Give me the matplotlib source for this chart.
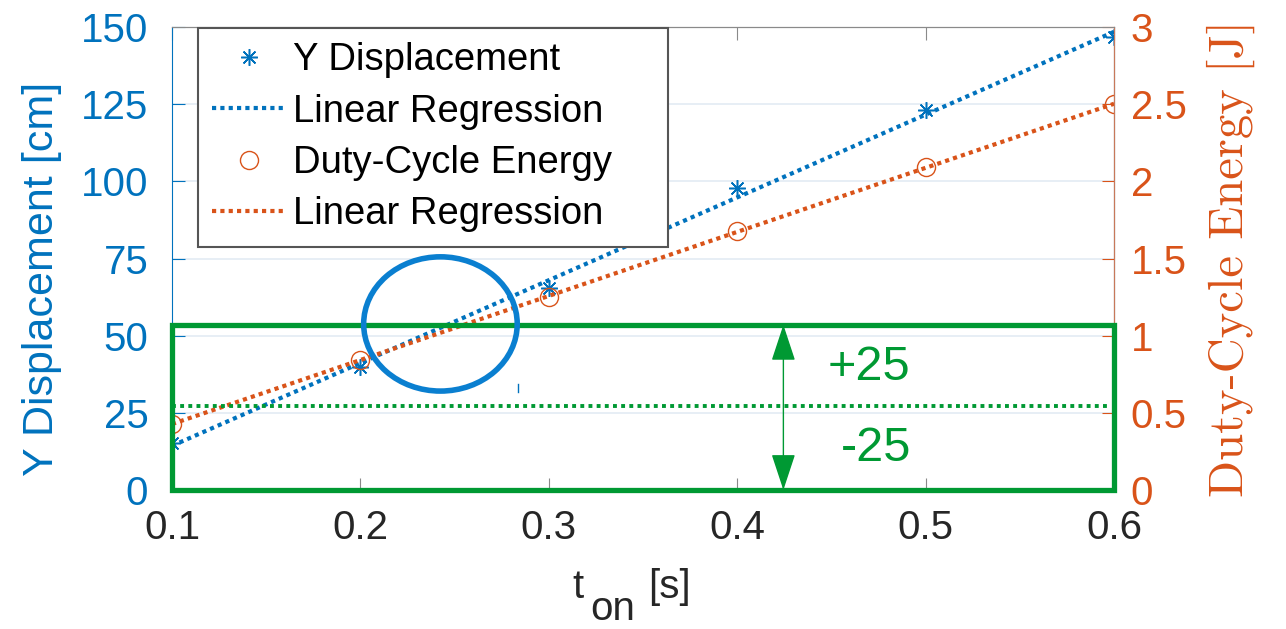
import numpy as np
import matplotlib.pyplot as plt
from matplotlib.patches import Rectangle, Ellipse

plt.rcParams['font.family'] = 'Liberation Sans'

# data
t_on = np.array([0.1, 0.2, 0.3, 0.4, 0.5, 0.6])
y_disp = np.array([15.2, 40.0, 65.4, 98.0, 123.0, 146.7])   # cm
energy = np.array([0.43, 0.84, 1.25, 1.68, 2.09, 2.50])      # J

blue = '#0072BD'
orange = '#D95319'
green = '#009933'

# linear fits
p_y = np.polyfit(t_on, y_disp, 1)
p_e = np.polyfit(t_on, energy, 1)

fig = plt.figure(figsize=(12.86, 6.29), dpi=100)
ax = fig.add_axes([0.1337, 0.221, 0.7326, 0.736])
ax2 = ax.twinx()

l1, = ax.plot(t_on, y_disp, ls='none', marker=(8, 2, 0), ms=12, mew=1.1,
              color=blue, label='Y Displacement')
l2, = ax.plot(t_on, np.polyval(p_y, t_on), ls=(0, (1, 1)), lw=3,
              color=blue, dash_capstyle='butt', label='Linear Regression')
l3, = ax2.plot(t_on, energy, ls='none', marker='o', ms=13, mfc='none',
               mew=1, color=orange, label='Duty-Cycle Energy')
l4, = ax2.plot(t_on, np.polyval(p_e, t_on), ls=(0, (1, 1)), lw=3,
               color=orange, dash_capstyle='butt', label='Linear Regression')

ax.set_xlim(0.1, 0.6)
ax.set_ylim(0, 150)
ax2.set_ylim(0, 3)
ax.set_xticks([0.1, 0.2, 0.3, 0.4, 0.5, 0.6])
ax.set_yticks([0, 25, 50, 75, 100, 125, 150])
ax2.set_yticks([0, 0.5, 1, 1.5, 2, 2.5, 3])
ax2.set_yticklabels(['0', '0.5', '1', '1.5', '2', '2.5', '3'])

ax.yaxis.grid(True, color='#e3ebf3', lw=1.2)
ax.set_axisbelow(True)

ax.tick_params(axis='x', direction='in', length=9, colors='#8a8a8a',
               labelcolor='#262626', labelsize=29, pad=14, top=True)
ax.tick_params(axis='y', direction='in', length=9, colors=blue,
               labelsize=29, pad=17)
ax2.tick_params(axis='y', direction='in', length=9, colors=orange,
                labelsize=29, pad=12)

ax.spines['left'].set_color(blue)
ax2.spines['right'].set_color('#c8785a')
for s in ('top', 'bottom'):
    ax.spines[s].set_color('#8a8a8a')
    ax2.spines[s].set_color('#8a8a8a')
ax2.spines['left'].set_visible(False)

ax.set_ylabel('Y Displacement [cm]', color=blue, fontsize=31)
ax.yaxis.set_label_coords(-0.117, 0.455)
ax2.set_ylabel('Duty-Cycle Energy [J]', color=orange, fontsize=35,
               fontfamily='cmr10', labelpad=14)

# x label: t with a full-size, lowered "on" subscript
fig.text(0.4448, 0.0490, 't', color='#262626', fontsize=29, va='baseline')
fig.text(0.4588, 0.0140, 'on', color='#262626', fontsize=29, va='baseline')
fig.text(0.5039, 0.0490, '[s]', color='#262626', fontsize=29, va='baseline')

leg = ax2.legend(handles=[l1, l2, l3, l4], loc='upper left',
                 bbox_to_anchor=(0.0276, 0.0, 0.499, 0.998), mode='expand',
                 borderaxespad=0, fontsize=27.5, handlelength=1.9,
                 handletextpad=0.2, labelspacing=0.40, borderpad=0.38,
                 fancybox=False, framealpha=1, edgecolor='#555555')
leg.get_frame().set_linewidth(1.5)
leg.set_zorder(20)

# annotations (left-axis units)
tr = ax.transData
ax2.add_patch(Rectangle((0.1, 0), 0.5, 53.5, fill=False, ec=green, lw=3.8,
                        transform=tr, clip_on=False, zorder=10))
ax2.plot([0.1, 0.597], [27.2, 27.2], transform=tr, color=green, lw=2.8,
         ls=(0, (1, 1.1)), dash_capstyle='butt', zorder=10)
ax2.annotate('', xy=(0.4245, 53.5), xytext=(0.4245, 0), xycoords=tr,
             textcoords=tr, zorder=10,
             arrowprops=dict(arrowstyle='<|-|>,head_length=1.15,head_width=0.38',
                             mutation_scale=20, color=green, lw=1,
                             shrinkA=0, shrinkB=0))
ax2.text(0.470, 39.8, '+25', transform=tr, color=green, fontsize=35,
         ha='center', va='center', zorder=10)
ax2.text(0.4737, 13.6, '-25', transform=tr, color=green, fontsize=35,
         ha='center', va='center', zorder=10)
ax2.add_patch(Ellipse((0.2425, 53.8), 0.0815, 43.5, fill=False, ec='#0a7fd0',
                      lw=4, transform=tr, zorder=11, clip_on=False))
ax2.plot([0.2837, 0.2837], [31.8, 34.2], transform=tr, color=blue, lw=1,
         zorder=11)

plt.savefig('out.png', dpi=100)
